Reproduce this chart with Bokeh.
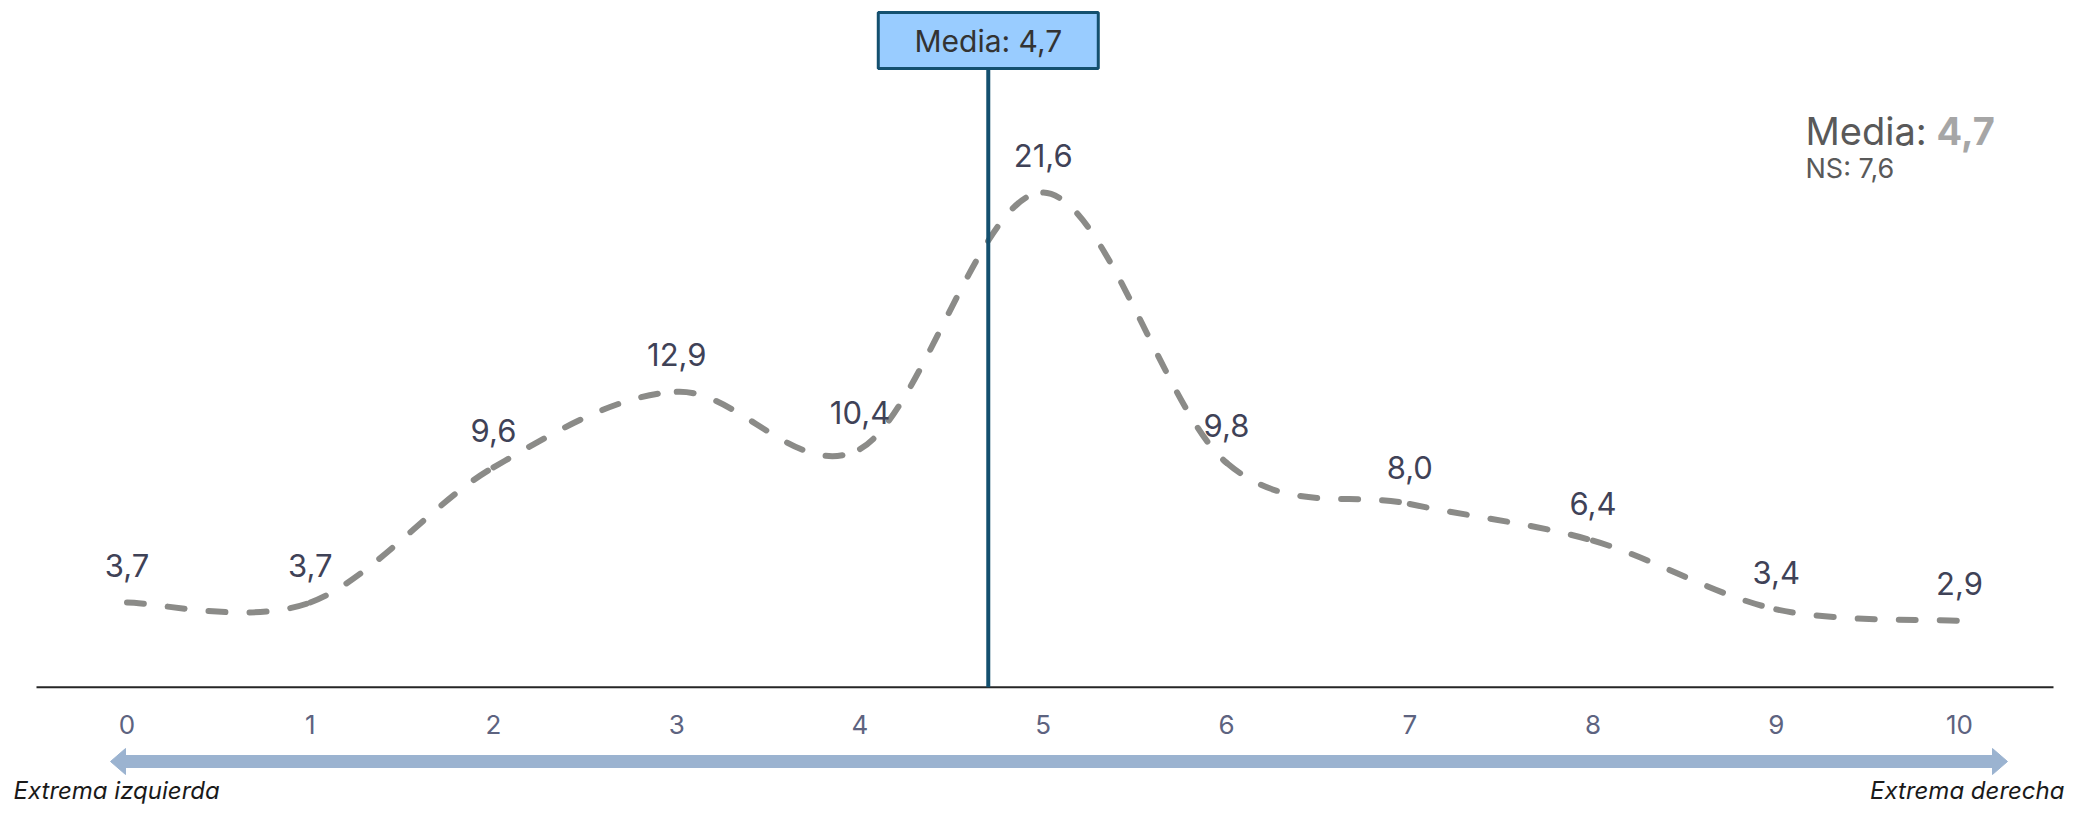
import numpy as np
from bokeh.plotting import figure
from bokeh.models import Range1d
from bokeh.embed import file_html
from bokeh.resources import INLINE
from bokeh.core.properties import value

# ---------------- data ----------------
positions = list(range(11))
tick_labels = ["0", "1", "2", "3", "4", "5", "6", "7", "8", "9", "10"]
values = [3.7, 3.7, 9.6, 12.9, 10.4, 21.6, 9.8, 8.0, 6.4, 3.4, 2.9]
value_labels = ["3,7", "3,7", "9,6", "12,9", "10,4", "21,6", "9,8", "8,0", "6,4", "3,4", "2,9"]
mean_value = 4.7
mean_box_label = "Media: 4,7"
mean_title = "Media:"
mean_number = "4,7"
ns_label = "NS: 7,6"
left_label = "Extrema izquierda"
right_label = "Extrema derecha"

# ---------------- geometry ----------------
W, H = 2069, 811
X0_PX, X_PX = 126.5, 183.25   # pixel of x=0, pixels per unit
Y0_PX, Y_PX = 686.7, 22.9     # pixel (from top) of y=0, pixels per unit
FONT = value("Inter")


def dx(px):
    return (px - X0_PX) / X_PX


def dy(py):
    return (Y0_PX - py) / Y_PX


p = figure(width=W, height=H,
           x_range=Range1d(dx(0), dx(W)), y_range=Range1d(dy(H), dy(0)),
           output_backend="svg", toolbar_location=None, min_border=0,
           x_axis_location=None, y_axis_location=None,
           outline_line_color=None, background_fill_color="white",
           border_fill_color="white")
p.grid.grid_line_color = None

# ---------------- smooth dashed curve (Bezier segments from the data) ----------------
xs = np.array(positions, dtype=float)
ys = np.array(values, dtype=float)
n = len(xs)
i = np.arange(n - 1)
im1 = np.maximum(i - 1, 0)
ip2 = np.minimum(i + 2, n - 1)
cx0 = xs[i] + (xs[i + 1] - xs[im1]) / 6
cy0 = ys[i] + (ys[i + 1] - ys[im1]) / 6
cx1 = xs[i + 1] - (xs[ip2] - xs[i]) / 6
cy1 = ys[i + 1] - (ys[ip2] - ys[i]) / 6
p.bezier(x0=xs[:-1], y0=ys[:-1], x1=xs[1:], y1=ys[1:],
         cx0=cx0, cy0=cy0, cx1=cx1, cy1=cy1,
         line_color="#8b8b88", line_width=6, line_dash="17 24", line_cap="round")

# ---------------- axis line & tick labels ----------------
p.segment(x0=[dx(36)], y0=[0], x1=[dx(2053)], y1=[0], line_color="#262626", line_width=2)
p.text(x=positions, y=[dy(724)] * len(positions), text=tick_labels,
       text_align="center", text_baseline="middle", text_font=FONT,
       text_font_size="26px", text_color="#5d6380")

# ---------------- data labels ----------------
p.text(x=positions, y=values, y_offset=-37, text=value_labels,
       text_align="center", text_baseline="middle", text_font=FONT,
       text_font_size="31px", text_color="#3f4257")

# ---------------- mean line and box ----------------
p.segment(x0=[mean_value], y0=[0], x1=[mean_value], y1=[dy(68)],
          line_color="#14506f", line_width=4)
p.rect(x=[mean_value], y=[dy(40)], width=220, height=56,
       width_units="screen", height_units="screen",
       fill_color="#99ccff", line_color="#14506f", line_width=3)
p.text(x=[mean_value], y=[dy(40)], text=[mean_box_label],
       text_align="center", text_baseline="middle", text_font=FONT,
       text_font_size="30px", text_color="#333333")

# ---------------- right annotation ----------------
p.text(x=[dx(1805)], y=[dy(130)], text=[mean_title], text_align="left",
       text_baseline="middle", text_font=FONT, text_font_size="38px",
       text_color="#595959")
p.text(x=[dx(1936)], y=[dy(130)], text=[mean_number], text_align="left",
       text_baseline="middle", text_font=FONT, text_font_size="38px",
       text_font_style="bold", text_color="#a6a6a6")
p.text(x=[dx(1805)], y=[dy(168)], text=[ns_label], text_align="left",
       text_baseline="middle", text_font=FONT, text_font_size="27px",
       text_color="#595959")

# ---------------- double arrow ----------------
ya = dy(761)
hw = 13 / Y_PX
hl = 15
p.segment(x0=[dx(110 + hl)], y0=[ya], x1=[dx(2007 - hl)], y1=[ya],
          line_color="#9bb3d0", line_width=13, line_cap="butt")
p.patches(xs=[[dx(110), dx(110 + hl), dx(110 + hl)], [dx(2007), dx(2007 - hl), dx(2007 - hl)]],
          ys=[[ya, ya + hw, ya - hw], [ya, ya + hw, ya - hw]],
          fill_color="#9bb3d0", line_color="#9bb3d0", line_width=1)

# ---------------- extreme labels ----------------
p.text(x=[dx(13)], y=[dy(790)], text=[left_label], text_align="left",
       text_baseline="alphabetic", text_font=FONT, text_font_size="24px",
       text_font_style="italic", text_color="#1a1a1a")
p.text(x=[dx(2064)], y=[dy(790)], text=[right_label], text_align="right",
       text_baseline="alphabetic", text_font=FONT, text_font_size="24px",
       text_font_style="italic", text_color="#1a1a1a")

open("out.html", "w").write(file_html(p, INLINE))
